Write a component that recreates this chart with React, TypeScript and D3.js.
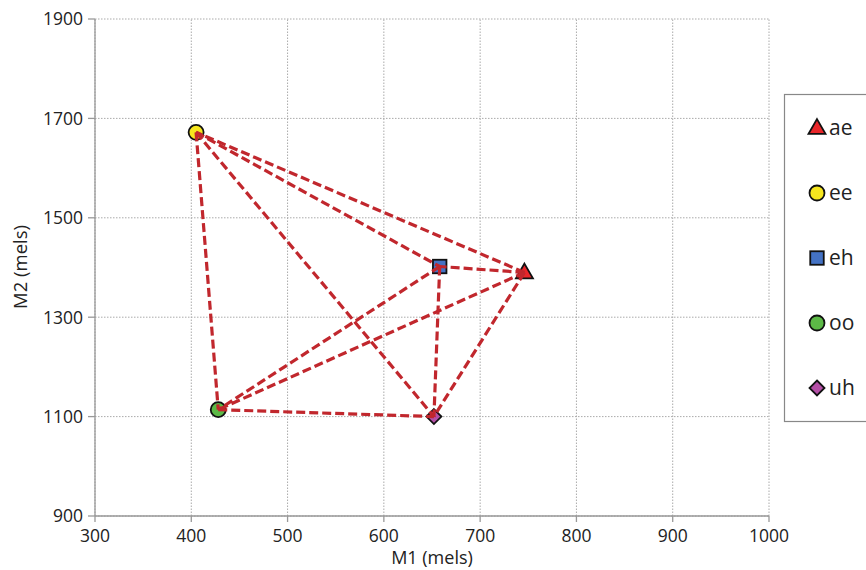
import React from "react";
import * as d3 from "d3";

const vowels = ["ae", "ee", "eh", "oo", "uh"];
const m1Values = [746, 405, 658, 428, 652];
const m2Values = [1390, 1672, 1402, 1114, 1100];
const xTicks = [300, 400, 500, 600, 700, 800, 900, 1000];
const yTicks = [900, 1100, 1300, 1500, 1700, 1900];
const fills = ["#e8262a", "#f6e61e", "#4472c4", "#5cb946", "#b44fa6"];
const shapes = ["triangle", "circle", "square", "circle", "diamond"];

const W = 866, H = 570;
const x = d3.scaleLinear().domain([300, 1000]).range([95, 769]);
const y = d3.scaleLinear().domain([900, 1900]).range([516, 19]);
const FONT = "'Open Sans', 'Noto Sans', sans-serif";

function Marker({ shape, cx, cy, fill, scale = 1 }: any) {
  const sw = 1.8;
  if (shape === "circle") return <circle cx={cx} cy={cy} r={7.5 * scale} fill={fill} stroke="#111" strokeWidth={sw} />;
  if (shape === "square") { const s = 13.5 * scale; return <rect x={cx - s / 2} y={cy - s / 2} width={s} height={s} fill={fill} stroke="#111" strokeWidth={sw} />; }
  if (shape === "triangle") { const s = 17 * scale; const h = s * 0.87; return <path d={`M${cx},${cy - h * 0.6} L${cx + s / 2},${cy + h * 0.4} L${cx - s / 2},${cy + h * 0.4} Z`} fill={fill} stroke="#111" strokeWidth={sw} />; }
  const r = 7.5 * scale;
  return <path d={`M${cx},${cy - r} L${cx + r},${cy} L${cx},${cy + r} L${cx - r},${cy} Z`} fill={fill} stroke="#111" strokeWidth={sw} />;
}

export default function App() {
  const pts = vowels.map((v, i) => ({ v, px: x(m1Values[i]), py: y(m2Values[i]), i }));
  const pairs: [number, number][] = [];
  for (let a = 0; a < pts.length; a++) for (let b = a + 1; b < pts.length; b++) pairs.push([a, b]);
  const legendY = d3.scalePoint().domain(vowels).range([128, 388]);
  return (
    <svg width={W} height={H} style={{ position: "absolute", left: 0, top: 0, background: "#fff" }} fontFamily={FONT}>
      {xTicks.map(t => (
        <line key={"gx" + t} x1={x(t)} x2={x(t)} y1={y(900)} y2={y(1900)} stroke="#aaa" strokeWidth={1} strokeDasharray="1.5,1.5" />
      ))}
      {yTicks.map(t => (
        <line key={"gy" + t} x1={x(300)} x2={x(1000)} y1={y(t)} y2={y(t)} stroke="#aaa" strokeWidth={1} strokeDasharray="1.5,1.5" />
      ))}
      <line x1={x(300)} x2={x(300)} y1={y(900)} y2={y(1900)} stroke="#999" strokeWidth={1.3} />
      <line x1={x(300)} x2={x(1000)} y1={y(900)} y2={y(900)} stroke="#999" strokeWidth={1.3} />
      {yTicks.map(t => (
        <g key={"ty" + t}>
          <line x1={x(300) - 7} x2={x(300)} y1={y(t)} y2={y(t)} stroke="#999" strokeWidth={1.3} />
          <text x={83} y={y(t)} dy="0.36em" textAnchor="end" fontSize={17.5} fill="#222">{t}</text>
        </g>
      ))}
      {xTicks.map(t => (
        <g key={"tx" + t}>
          <line x1={x(t)} x2={x(t)} y1={y(900)} y2={y(900) + 6} stroke="#999" strokeWidth={1.3} />
          <text x={x(t)} y={542} textAnchor="middle" fontSize={17.5} fill="#222">{t}</text>
        </g>
      ))}
      <text x={432} y={564} textAnchor="middle" fontSize={18} fill="#222">M1 (mels)</text>
      <text transform={`translate(27,267) rotate(-90)`} textAnchor="middle" fontSize={18.5} fill="#222">M2 (mels)</text>
      {pts.map(p => (
        <Marker key={"m" + p.v} shape={shapes[p.i]} cx={p.px} cy={p.py} fill={fills[p.i]} />
      ))}
      {pairs.map(([a, b]) => (
        <line key={"l" + a + b} x1={pts[a].px} y1={pts[a].py} x2={pts[b].px} y2={pts[b].py} stroke="#c1272d" strokeWidth={3.2} strokeDasharray="9,4" />
      ))}
      <rect x={784.5} y={94.5} width={100} height={327} fill="#fff" stroke="#888" strokeWidth={1.2} />
      {vowels.map((v, i) => (
        <g key={"lg" + v}>
          <Marker shape={shapes[i]} cx={817} cy={legendY(v)!} fill={fills[i]} />
          <text x={829} y={legendY(v)!} dy="0.35em" fontSize={21} fill="#222">{v}</text>
        </g>
      ))}
    </svg>
  );
}
